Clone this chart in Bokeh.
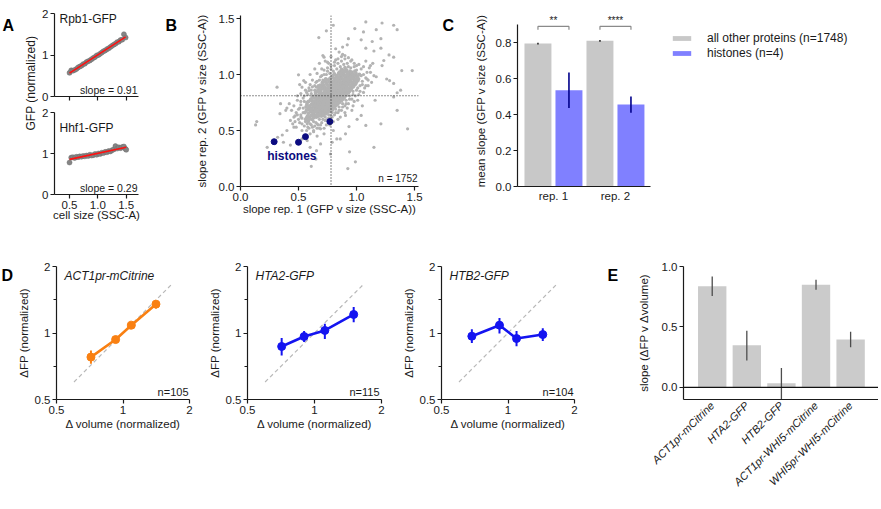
import math
import numpy as np
from bokeh.plotting import figure
from bokeh.layouts import row, column
from bokeh.models import Range1d, FixedTicker, Label, Span, Legend, LegendItem, PrintfTickFormatter
from bokeh.embed import file_html
from bokeh.resources import INLINE
from bokeh.core.properties import value

FONT = "Liberation Sans"
TXT = "#1a1a1a"

# ---------------- data ----------------
# Panel A
a_top_x = [0.50, 0.53, 0.56, 0.59, 0.62, 0.65, 0.68, 0.71, 0.74, 0.77, 0.80, 0.83, 0.86, 0.89, 0.92, 0.95, 0.98,
           1.01, 1.04, 1.07, 1.10, 1.13, 1.16, 1.19, 1.22, 1.25, 1.28, 1.31, 1.34, 1.37, 1.40, 1.43, 1.46, 1.49]
a_top_y = [0.57, 0.63, 0.62, 0.64, 0.66, 0.70, 0.72, 0.74, 0.78, 0.79, 0.83, 0.85, 0.87, 0.90, 0.93, 0.95, 0.99,
           1.00, 1.03, 1.06, 1.09, 1.11, 1.14, 1.16, 1.19, 1.22, 1.25, 1.27, 1.31, 1.32, 1.36, 1.37, 1.50, 1.42]
a_bot_x = [0.50, 0.53, 0.56, 0.59, 0.62, 0.65, 0.68, 0.71, 0.74, 0.77, 0.80, 0.83, 0.86, 0.89, 0.92, 0.95, 0.98,
           1.01, 1.04, 1.07, 1.10, 1.13, 1.16, 1.19, 1.22, 1.25, 1.28, 1.31, 1.34, 1.37, 1.40, 1.43, 1.46, 1.49, 1.50]
a_bot_y = [0.78, 0.90, 0.91, 0.89, 0.92, 0.91, 0.93, 0.92, 0.94, 0.93, 0.95, 0.94, 0.97, 0.95, 0.96, 0.99, 0.97,
           1.00, 0.99, 1.02, 1.01, 1.04, 1.03, 1.06, 1.05, 1.08, 1.10, 1.18, 1.12, 1.15, 1.13, 1.16, 1.17, 1.11, 1.09]
a_names = ["Rpb1-GFP", "Hhf1-GFP"]
a_slopes = ["slope = 0.91", "slope = 0.29"]

# Panel B (slope rep.1, slope rep.2)
b_core = [
    (0.562, 0.60), (0.556, 0.66), (0.565, 0.71),
    (0.578, 0.63), (0.585, 0.69), (0.574, 0.75), (0.583, 0.58),
    (0.597, 0.62), (0.604, 0.67), (0.599, 0.72), (0.606, 0.78), (0.593, 0.70),
    (0.617, 0.60), (0.624, 0.65), (0.615, 0.70), (0.626, 0.74), (0.619, 0.80), (0.623, 0.68),
    (0.637, 0.63), (0.645, 0.67), (0.641, 0.71), (0.634, 0.76), (0.646, 0.82), (0.639, 0.73), (0.643, 0.69),
    (0.655, 0.62), (0.664, 0.66), (0.658, 0.70), (0.666, 0.73), (0.653, 0.77), (0.661, 0.81), (0.667, 0.86), (0.659, 0.75),
    (0.676, 0.64), (0.684, 0.68), (0.679, 0.72), (0.687, 0.75), (0.673, 0.79), (0.682, 0.83), (0.678, 0.88), (0.685, 0.70),
    (0.697, 0.63), (0.703, 0.67), (0.695, 0.71), (0.706, 0.74), (0.699, 0.77), (0.704, 0.80), (0.693, 0.84), (0.701, 0.89),
    (0.707, 0.93), (0.696, 0.76),
    (0.716, 0.66), (0.724, 0.70), (0.718, 0.73), (0.726, 0.76), (0.714, 0.79), (0.722, 0.82), (0.727, 0.85), (0.719, 0.90),
    (0.713, 0.72), (0.725, 0.78),
    (0.736, 0.65), (0.744, 0.69), (0.738, 0.72), (0.746, 0.75), (0.733, 0.78), (0.741, 0.81), (0.747, 0.84), (0.739, 0.87),
    (0.743, 0.92), (0.735, 0.96), (0.745, 0.80),
    (0.757, 0.68), (0.764, 0.72), (0.754, 0.75), (0.766, 0.78), (0.759, 0.81), (0.763, 0.84), (0.753, 0.86), (0.761, 0.89),
    (0.767, 0.94), (0.756, 0.77), (0.762, 0.83),
    (0.777, 0.67), (0.784, 0.71), (0.775, 0.74), (0.786, 0.77), (0.779, 0.80), (0.783, 0.83), (0.773, 0.86), (0.781, 0.89),
    (0.787, 0.92), (0.776, 0.97), (0.782, 0.79),
    (0.797, 0.70), (0.804, 0.74), (0.795, 0.77), (0.806, 0.80), (0.799, 0.83), (0.803, 0.86), (0.793, 0.88), (0.801, 0.91),
    (0.807, 0.95), (0.796, 0.99), (0.802, 0.82),
    (0.817, 0.72), (0.824, 0.76), (0.815, 0.79), (0.826, 0.82), (0.819, 0.85), (0.823, 0.88), (0.813, 0.91), (0.821, 0.94),
    (0.827, 0.98), (0.816, 0.87),
    (0.837, 0.74), (0.844, 0.78), (0.835, 0.81), (0.846, 0.84), (0.839, 0.87), (0.843, 0.90), (0.833, 0.93), (0.841, 0.96),
    (0.847, 1.01), (0.836, 0.89),
    (0.857, 0.76), (0.864, 0.80), (0.855, 0.83), (0.866, 0.86), (0.859, 0.89), (0.863, 0.92), (0.853, 0.95), (0.861, 0.99),
    (0.867, 1.03),
    (0.877, 0.78), (0.884, 0.82), (0.875, 0.85), (0.886, 0.88), (0.879, 0.91), (0.883, 0.94), (0.873, 0.97), (0.881, 1.01),
    (0.897, 0.80), (0.904, 0.84), (0.895, 0.88), (0.906, 0.91), (0.899, 0.94), (0.903, 0.98), (0.893, 1.02), (0.901, 1.06),
    (0.917, 0.83), (0.924, 0.87), (0.915, 0.90), (0.926, 0.94), (0.919, 0.97), (0.923, 1.00), (0.913, 1.04),
    (0.937, 0.85), (0.944, 0.89), (0.935, 0.93), (0.946, 0.96), (0.939, 1.00), (0.943, 1.03),
    (0.957, 0.88), (0.964, 0.92), (0.955, 0.96), (0.966, 0.99), (0.959, 1.02),
    (0.977, 0.90), (0.984, 0.95), (0.975, 0.98), (0.986, 1.03),
    (0.997, 0.93), (1.004, 0.97), (0.995, 1.01),
    (1.017, 0.96), (1.024, 1.00),
]
b_core2 = [
    (0.571, 0.615), (0.568, 0.68), (0.573, 0.73),
    (0.592, 0.60), (0.588, 0.655), (0.591, 0.705), (0.587, 0.76),
    (0.611, 0.635), (0.608, 0.685), (0.612, 0.735), (0.609, 0.77),
    (0.632, 0.615), (0.628, 0.66), (0.631, 0.715), (0.627, 0.75), (0.633, 0.79),
    (0.651, 0.64), (0.648, 0.685), (0.652, 0.72), (0.649, 0.745), (0.653, 0.79), (0.647, 0.84),
    (0.672, 0.63), (0.668, 0.675), (0.671, 0.71), (0.669, 0.74), (0.673, 0.765), (0.667, 0.80), (0.672, 0.845),
    (0.691, 0.655), (0.688, 0.695), (0.692, 0.735), (0.689, 0.76), (0.693, 0.785), (0.687, 0.815), (0.691, 0.86),
    (0.688, 0.905),
    (0.712, 0.645), (0.708, 0.685), (0.711, 0.725), (0.709, 0.755), (0.713, 0.785), (0.707, 0.81), (0.712, 0.83),
    (0.709, 0.875), (0.711, 0.915),
    (0.731, 0.675), (0.728, 0.71), (0.732, 0.74), (0.729, 0.77), (0.733, 0.795), (0.727, 0.825), (0.731, 0.855),
    (0.728, 0.885), (0.732, 0.94),
    (0.752, 0.665), (0.748, 0.705), (0.751, 0.735), (0.749, 0.765), (0.753, 0.795), (0.747, 0.825), (0.752, 0.85),
    (0.749, 0.875), (0.751, 0.905), (0.748, 0.95),
    (0.771, 0.695), (0.768, 0.73), (0.772, 0.765), (0.769, 0.79), (0.773, 0.815), (0.767, 0.845), (0.771, 0.875),
    (0.768, 0.905), (0.772, 0.93), (0.769, 0.96),
    (0.792, 0.685), (0.788, 0.725), (0.791, 0.755), (0.789, 0.785), (0.793, 0.81), (0.787, 0.84), (0.792, 0.87),
    (0.789, 0.90), (0.791, 0.935), (0.788, 0.975),
    (0.811, 0.71), (0.808, 0.75), (0.812, 0.78), (0.809, 0.81), (0.813, 0.84), (0.807, 0.865), (0.811, 0.895),
    (0.808, 0.925), (0.812, 0.965), (0.809, 1.005),
    (0.832, 0.73), (0.828, 0.77), (0.831, 0.80), (0.829, 0.83), (0.833, 0.86), (0.827, 0.885), (0.832, 0.915),
    (0.829, 0.95), (0.831, 0.99),
    (0.851, 0.75), (0.848, 0.79), (0.852, 0.82), (0.849, 0.85), (0.853, 0.88), (0.847, 0.905), (0.851, 0.94),
    (0.848, 0.975), (0.852, 1.02),
    (0.872, 0.77), (0.868, 0.81), (0.871, 0.84), (0.869, 0.87), (0.873, 0.90), (0.867, 0.93), (0.872, 0.965),
    (0.869, 1.00), (0.871, 1.045),
    (0.891, 0.79), (0.888, 0.83), (0.892, 0.865), (0.889, 0.895), (0.893, 0.925), (0.887, 0.955), (0.891, 0.99),
    (0.888, 1.035),
    (0.912, 0.815), (0.908, 0.855), (0.911, 0.885), (0.909, 0.92), (0.913, 0.955), (0.907, 0.99), (0.911, 1.025),
    (0.931, 0.84), (0.928, 0.875), (0.932, 0.915), (0.929, 0.95), (0.933, 0.98), (0.927, 1.015),
    (0.952, 0.865), (0.948, 0.905), (0.951, 0.94), (0.949, 0.975), (0.953, 1.01),
    (0.971, 0.89), (0.968, 0.93), (0.972, 0.965), (0.969, 1.00),
    (0.992, 0.915), (0.988, 0.955), (0.991, 0.99),
    (1.011, 0.945), (1.008, 0.985),
]
b_halo = [
    (0.52, 0.64), (0.54, 0.70), (0.50, 0.60), (0.55, 0.76), (0.53, 0.56), (0.58, 0.82), (0.61, 0.86), (0.64, 0.90),
    (0.66, 0.94), (0.69, 0.98), (0.72, 1.00), (0.75, 1.03), (0.78, 1.05), (0.81, 1.08), (0.84, 1.10), (0.87, 1.12),
    (0.90, 1.14), (0.95, 1.12), (1.00, 1.08), (1.04, 1.05), (1.06, 1.00), (1.05, 0.94), (1.08, 0.97), (1.03, 0.90),
    (1.00, 0.86), (0.97, 0.82), (0.94, 0.78), (0.91, 0.74), (0.88, 0.71), (0.85, 0.68), (0.82, 0.66), (0.79, 0.62),
    (0.76, 0.61), (0.73, 0.59), (0.70, 0.57), (0.67, 0.55), (0.64, 0.54), (0.61, 0.55), (0.59, 0.52), (0.57, 0.50),
    (0.63, 0.49), (0.68, 0.52), (0.74, 0.55), (0.80, 0.58), (0.86, 0.62), (0.92, 0.70), (0.98, 0.76), (1.02, 0.82),
    (1.10, 0.90), (1.12, 1.02), (0.60, 0.91), (0.56, 0.86), (0.62, 0.95), (0.70, 1.05), (0.76, 1.10), (0.82, 1.13),
    (0.88, 1.18), (0.93, 1.07), (0.98, 1.10), (1.08, 1.12), (0.66, 1.01), (0.73, 1.12), (0.51, 0.70), (0.48, 0.66),
    (0.46, 0.62), (0.45, 0.56), (0.48, 0.53), (0.44, 0.68), (0.40, 0.70), (0.52, 0.76),
]
b_halo2 = [
    (0.47, 0.58), (0.49, 0.64), (0.50, 0.69), (0.51, 0.57), (0.52, 0.73), (0.53, 0.61), (0.54, 0.66), (0.55, 0.54),
    (0.55, 0.81), (0.56, 0.58), (0.57, 0.84), (0.58, 0.53), (0.59, 0.88), (0.60, 0.56), (0.61, 0.83), (0.62, 0.53),
    (0.62, 0.89), (0.63, 0.58), (0.64, 0.86), (0.65, 0.57), (0.65, 0.93), (0.66, 0.52), (0.67, 0.90), (0.68, 0.60),
    (0.68, 0.95), (0.69, 0.55), (0.70, 0.99), (0.71, 0.60), (0.71, 0.95), (0.72, 0.63), (0.72, 1.04), (0.73, 0.62),
    (0.74, 1.00), (0.75, 0.60), (0.75, 1.06), (0.76, 0.64), (0.77, 1.01), (0.78, 0.63), (0.78, 1.08), (0.79, 0.66),
    (0.80, 1.03), (0.81, 0.64), (0.81, 1.11), (0.82, 0.69), (0.83, 1.05), (0.84, 0.66), (0.84, 1.14), (0.85, 0.71),
    (0.86, 1.07), (0.87, 0.68), (0.87, 1.16), (0.88, 0.74), (0.89, 1.09), (0.90, 0.72), (0.90, 1.17), (0.91, 0.77),
    (0.92, 1.10), (0.93, 0.74), (0.93, 1.15), (0.94, 0.81), (0.95, 1.06), (0.96, 0.78), (0.96, 1.13), (0.97, 0.85),
    (0.98, 1.07), (0.99, 0.81), (1.00, 1.04), (1.01, 0.88), (1.02, 1.09), (1.03, 0.85), (1.04, 0.99), (1.05, 0.91),
    (1.06, 1.07), (1.07, 0.88), (1.09, 1.02), (1.10, 0.95), (1.11, 1.06), (1.13, 0.93), (1.14, 1.10), (1.17, 0.98),
    (0.53, 0.50), (0.60, 0.47), (0.66, 0.45), (0.72, 0.52), (0.77, 0.55), (0.84, 0.60), (0.90, 0.66), (0.97, 0.72),
    (1.01, 0.77), (1.06, 0.84), (0.46, 0.72), (0.49, 0.77), (0.52, 0.83), (0.56, 0.93), (0.60, 1.00), (0.64, 1.05),
    (0.68, 1.10), (0.71, 1.17), (0.78, 1.16), (0.85, 1.20),
]
b_outliers = [
    (0.80, 1.44), (1.08, 1.47), (1.22, 1.46), (1.32, 1.44), (1.35, 1.40), (0.985, 1.41), (1.06, 1.38), (1.17, 1.40),
    (1.21, 1.32), (1.135, 1.295), (1.04, 1.31), (0.93, 1.32), (0.92, 1.265), (0.88, 1.245), (0.82, 1.23), (1.08, 1.235),
    (1.15, 1.21), (1.21, 1.235), (1.28, 1.175), (1.32, 1.155), (1.235, 1.125), (1.22, 1.08), (1.12, 1.08), (1.15, 0.99),
    (1.39, 1.035), (1.26, 0.96), (1.285, 0.946), (1.08, 0.90), (1.35, 0.837), (0.675, 1.33), (0.74, 1.39), (0.72, 1.155),
    (0.75, 1.11), (0.50, 0.997), (0.545, 0.946), (0.51, 0.91), (0.53, 0.887), (0.315, 0.887), (0.59, 0.857), (0.655, 0.887),
    (0.62, 0.81), (0.49, 0.81), (0.54, 0.79), (0.42, 0.74), (0.345, 0.74), (0.14, 0.58), (0.13, 0.55), (0.34, 0.65),
    (0.39, 0.68), (0.43, 0.59), (0.47, 0.63), (0.52, 0.62), (0.46, 0.53), (0.40, 0.50), (0.36, 0.46), (0.32, 0.44),
    (0.23, 0.35), (0.37, 0.395), (0.43, 0.37), (0.53, 0.425), (0.575, 0.41), (0.60, 0.35), (0.655, 0.32), (0.65, 0.245),
    (0.61, 0.18), (0.69, 0.38), (0.72, 0.47), (0.69, 0.515), (0.63, 0.50), (0.575, 0.56), (0.66, 0.56), (0.94, 0.31),
    (0.99, 0.22), (0.925, 0.16), (1.08, 0.545), (1.005, 0.60), (1.04, 0.635), (0.935, 0.535), (0.905, 0.47), (0.86, 0.425),
    (0.83, 0.425), (0.79, 0.395), (0.96, 0.68), (1.05, 0.72), (0.905, 0.635), (0.80, 0.50), (0.775, 0.29), (1.48, 1.035),
    (1.35, 0.68), (1.21, 0.56), (1.32, 0.80), (1.44, 0.515), (1.16, 0.77), (1.09, 0.96), (1.32, 0.92), (1.38, 0.86),
    (1.15, 0.35),
]
hist_x = [0.29, 0.50, 0.56, 0.77]
hist_y = [0.40, 0.395, 0.445, 0.58]
b_mean_x = 0.78
b_mean_y = 0.81
b_n = "n = 1752"

# Panel C
c_reps = ["rep. 1", "rep. 2"]
c_other = [0.795, 0.81]
c_other_lo = [0.790, 0.805]
c_other_hi = [0.800, 0.815]
c_hist = [0.535, 0.456]
c_hist_lo = [0.436, 0.410]
c_hist_hi = [0.634, 0.500]
c_sig = ["**", "****"]
c_legend = ["all other proteins (n=1748)", "histones (n=4)"]

# Panel D
d_names = ["ACT1pr-mCitrine", "HTA2-GFP", "HTB2-GFP"]
d_n = ["n=105", "n=115", "n=104"]
d_x = [[0.716, 0.926, 1.091, 1.41], [0.712, 0.898, 1.113, 1.50], [0.686, 0.915, 1.093, 1.437]]
d_y = [[0.778, 0.934, 1.085, 1.351], [0.869, 0.964, 1.027, 1.213], [0.967, 1.085, 0.944, 0.984]]
d_lo = [[0.725, 0.915, 1.065, 1.29], [0.79, 0.91, 0.94, 1.12], [0.90, 0.995, 0.87, 0.92]]
d_hi = [[0.833, 0.955, 1.105, 1.40], [0.95, 1.02, 1.10, 1.31], [1.04, 1.17, 1.02, 1.05]]
d_colors = ["#f98012", "#1414f0", "#1414f0"]
d_identity = [0.6, 1.65]

# Panel E
e_names = ["ACT1pr-mCitrine", "HTA2-GFP", "HTB2-GFP", "ACT1pr-WHI5-mCitrine", "WHI5pr-WHI5-mCitrine"]
e_slope = [0.837, 0.348, 0.034, 0.849, 0.396]
e_lo = [0.755, 0.223, -0.096, 0.808, 0.333]
e_hi = [0.918, 0.468, 0.160, 0.890, 0.460]

panel_letters = ["A", "B", "C", "D", "E"]


# ---------------- helpers ----------------
def make_fig(w, h, borders, xr, yr, **kw):
    l, r, t, b = borders
    p = figure(width=w, height=h, x_range=xr, y_range=yr, title=None,
               min_border_left=l, min_border_right=r, min_border_top=t, min_border_bottom=b,
               output_backend="svg", toolbar_location=None, **kw)
    p.outline_line_color = None
    for g in p.grid:
        g.visible = False
    for ax in p.axis:
        ax.axis_line_color = TXT
        ax.axis_line_width = 1.2
        ax.major_tick_line_color = TXT
        ax.major_tick_line_width = 1.2
        ax.major_tick_in = 0
        ax.major_tick_out = 4
        ax.minor_tick_line_color = None
        ax.major_label_text_font = FONT
        ax.major_label_text_font_size = "11.5px"
        ax.major_label_text_color = TXT
        ax.major_label_standoff = 2
        ax.axis_label_text_font = FONT
        ax.axis_label_text_font_size = "11.5px"
        ax.axis_label_text_font_style = "normal"
        ax.axis_label_text_color = TXT
        ax.axis_label_standoff = 2
    return p


def one_decimal(ax):
    ax.formatter = PrintfTickFormatter(format="%.1f")


def blank(w, h):
    # a plain text canvas whose data units are pixels from its top-left corner
    p = figure(width=w, height=h, x_range=Range1d(0, w), y_range=Range1d(h, 0), title=None,
               x_axis_type=None, y_axis_type=None, min_border=0,
               output_backend="svg", toolbar_location=None)
    p.outline_line_color = None
    for g in p.grid:
        g.visible = False
    return p


def letter(p, txt, x, y):
    p.text(x=[x], y=[y], text=[txt], text_font=value(FONT), text_font_size="16px",
           text_font_style="bold", text_baseline="top", text_align="left", text_color="#000000")


def label(p, text, x, y, size="11.5px", align="left", baseline="middle", style="normal", color=TXT):
    p.add_layout(Label(x=x, y=y, x_units="screen", y_units="screen", text=text, text_font=FONT,
                       text_font_size=size, text_align=align, text_baseline=baseline,
                       text_font_style=style, text_color=color))


# ---------------- top row ----------------
strip = blank(38, 240)
letter(strip, panel_letters[0], 2, 2)
strip.text(x=[30.5], y=[95], text=["GFP (normalized)"], text_font=value(FONT), text_font_size="12px",
           text_align="center", text_baseline="middle", angle=math.pi / 2, text_color=TXT)

a_xr = (0.235, 1.717)
a_top = make_fig(112, 104, (16, 12, 13, 8), Range1d(*a_xr), Range1d(0, 2))
a_bot = make_fig(112, 136, (16, 12, 8, 46), Range1d(*a_xr), Range1d(0, 2))
for p, xs, ys, nm, sl, ny in [(a_top, a_top_x, a_top_y, a_names[0], a_slopes[0], 78),
                              (a_bot, a_bot_x, a_bot_y, a_names[1], a_slopes[1], 67)]:
    p.yaxis.ticker = FixedTicker(ticks=[0, 1, 2])
    p.scatter(xs, ys, size=5, fill_color="#858585", line_color="#6e6e6e", line_width=0.5)
    k, c = np.polyfit(xs, ys, 1)
    fx = [min(xs), max(xs)]
    p.line(fx, [k * v + c for v in fx], line_color="#ff1010", line_width=1.6)
    label(p, nm, 5, ny, size="12px")
    label(p, sl, 83, 7, size="10.5px", align="right")
# top panel: x ticks without labels (drawn as minor ticks)
a_top.xaxis.ticker = FixedTicker(ticks=[], minor_ticks=[0.5, 1.0, 1.5])
a_top.xaxis.minor_tick_line_color = TXT
a_top.xaxis.minor_tick_line_width = 1.2
a_top.xaxis.minor_tick_out = 4
a_top.xaxis.minor_tick_in = 0
a_bot.xaxis.ticker = FixedTicker(ticks=[0.5, 1.0, 1.5])
one_decimal(a_bot.xaxis)
a_bot.xaxis.axis_label = "cell size (SSC-A)"
a_bot.xaxis.axis_label_standoff = -3
col_a = column(a_top, a_bot)

# Panel B
b_dense = b_core + b_core2
b_sparse = b_halo + b_halo2 + b_outliers
b_let = blank(35, 240)
letter(b_let, panel_letters[1], 15, 2)
pb = make_fig(255, 240, (55, 22, 15, 54), Range1d(0, 1.534), Range1d(0, 1.527))
pb.xaxis.ticker = FixedTicker(ticks=[0.0, 0.5, 1.0, 1.5])
pb.yaxis.ticker = FixedTicker(ticks=[0.0, 0.5, 1.0, 1.5])
one_decimal(pb.xaxis)
one_decimal(pb.yaxis)
pb.xaxis.axis_label = "slope rep. 1 (GFP v size (SSC-A))"
pb.yaxis.axis_label = "slope rep. 2 (GFP v size (SSC-A))"
pb.xaxis.axis_label_standoff = -1
pb.yaxis.axis_label_standoff = 8
pb.scatter([q[0] for q in b_sparse], [q[1] for q in b_sparse], size=3.2, fill_color="#b3b3b3", line_color=None)
pb.scatter([q[0] for q in b_dense], [q[1] for q in b_dense], size=3.9, fill_color="#b3b3b3", line_color=None)
pb.add_layout(Span(location=b_mean_x, dimension="height", line_color="#222222", line_dash="1 2", line_width=1.1))
pb.add_layout(Span(location=b_mean_y, dimension="width", line_color="#222222", line_dash="1 2", line_width=1.1))
pb.scatter(hist_x, hist_y, size=6, fill_color="#0b0b80", line_color="#0b0b80")
pb.add_layout(Label(x=0.23, y=0.27, text="histones", text_font=FONT, text_font_size="12px",
                    text_font_style="bold", text_color="#0b0b80", text_baseline="middle"))
label(pb, b_n, 177, 8, size="10px", align="right")

# Panel C
c_pos = [1, 2]
off = 0.25
bw = 0.435
c_let = blank(30, 240)
letter(c_let, panel_letters[2], 2, 2)
pc = make_fig(411, 240, (47, 0, 10, 54), Range1d(0.42, 6.291), Range1d(0, 0.951))
pc.xaxis.bounds = (0.42, 2.565)
pc.yaxis.bounds = (0, 0.9)
pc.yaxis.ticker = FixedTicker(ticks=[0.0, 0.2, 0.4, 0.6, 0.8])
one_decimal(pc.yaxis)
pc.xaxis.ticker = FixedTicker(ticks=c_pos)
pc.xaxis.major_label_overrides = {c_pos[i]: c_reps[i] for i in range(2)}
pc.xaxis.major_tick_out = 0
pc.xaxis.major_label_standoff = 3
pc.yaxis.axis_label = "mean slope (GFP v size (SSC-A))"
pc.yaxis.axis_label_standoff = 6
gx = [v - off for v in c_pos]
hx = [v + off for v in c_pos]
r_other = pc.vbar(x=gx, top=c_other, width=bw, fill_color="#c8c8c8", line_color=None)
r_hist = pc.vbar(x=hx, top=c_hist, width=bw, fill_color="#8080ff", line_color=None)
pc.segment(gx, c_other_lo, gx, c_other_hi, line_color="#111111", line_width=1.4)
pc.segment(hx, c_hist_lo, hx, c_hist_hi, line_color="#00008b", line_width=1.6)
br_y, br_lo = 0.89, 0.872
pc.multi_line([[gx[i], gx[i], hx[i], hx[i]] for i in range(2)],
              [[br_lo, br_y, br_y, br_lo] for i in range(2)], line_color="#8a8a8a", line_width=1.2)
pc.text(x=c_pos, y=[0.894, 0.894], text=c_sig, text_font=value(FONT), text_font_size="10px",
        text_align="center", text_baseline="bottom", text_color=TXT)
leg = Legend(items=[LegendItem(label=c_legend[0], renderers=[r_other]),
                    LegendItem(label=c_legend[1], renderers=[r_hist])],
             location=(153, 126), border_line_color=None, background_fill_alpha=0,
             padding=0, margin=0, spacing=1, glyph_width=23, glyph_height=6,
             label_height=14, label_standoff=14, label_text_font=FONT,
             label_text_font_size="12px", label_text_color=TXT)
pc.add_layout(leg)

top_row = row(strip, col_a, b_let, pb, c_let, pc)

# ---------------- bottom row ----------------
d_let = blank(14, 269)
letter(d_let, panel_letters[3], 1, 1)
d_specs = [(186, (40, 11, 26, 110)), (196, (47, 15, 26, 110)), (204, (45, 26, 26, 110))]
d_figs = []
for i in range(3):
    w, bd = d_specs[i]
    p = make_fig(w, 269, bd, Range1d(0.5, 2), Range1d(0.5, 2), x_axis_type="log", y_axis_type="log")
    p.xaxis.ticker = FixedTicker(ticks=[0.5, 1, 2])
    p.yaxis.ticker = FixedTicker(ticks=[0.5, 1, 2], minor_ticks=[0.7071, 1.4142])
    p.yaxis.minor_tick_line_color = TXT
    p.yaxis.minor_tick_line_width = 1.2
    p.yaxis.minor_tick_out = 3
    p.yaxis.minor_tick_in = 0
    ov = {0.5: "0.5", 1: "1", 2: "2"}
    p.xaxis.major_label_overrides = ov
    p.yaxis.major_label_overrides = ov
    p.xaxis.axis_label = "\u0394 volume (normalized)"
    p.yaxis.axis_label = "\u0394FP (normalized)"
    p.xaxis.axis_label_standoff = 1
    p.yaxis.axis_label_standoff = 2
    p.line(d_identity, d_identity, line_color="#b8b8b8", line_dash="4 3", line_width=1.2)
    col = d_colors[i]
    p.segment(d_x[i], d_lo[i], d_x[i], d_hi[i], line_color=col, line_width=2)
    p.line(d_x[i], d_y[i], line_color=col, line_width=2.6)
    p.scatter(d_x[i], d_y[i], size=8, fill_color=col, line_color=col)
    label(p, d_names[i], 8, 124, size="12px", style="italic")
    label(p, d_n[i], 132, 8, size="11px", align="right")
    d_figs.append(p)

e_let = blank(30, 269)
letter(e_let, panel_letters[4], 7, 1)
e_pos = list(range(len(e_names)))
pe = make_fig(248, 269, (53, 0, 6, 110), Range1d(-0.83, 4.806), Range1d(-0.1, 1.0))
pe.yaxis.ticker = FixedTicker(ticks=[0.0, 0.5, 1.0])
one_decimal(pe.yaxis)
pe.xaxis.ticker = FixedTicker(ticks=e_pos)
pe.xaxis.major_label_overrides = {e_pos[i]: e_names[i] for i in e_pos}
pe.xaxis.major_label_orientation = math.pi / 4
pe.xaxis.major_tick_out = 0
pe.xaxis.major_label_text_font_style = "italic"
pe.xaxis.major_label_text_font_size = "11px"
pe.xaxis.major_label_standoff = 4
pe.yaxis.axis_label = "slope (\u0394FP v \u0394volume)"
pe.yaxis.axis_label_standoff = 9
pe.vbar(x=e_pos, top=e_slope, width=0.82, fill_color="#cbcbcb", line_color=None)
pe.segment(e_pos, e_lo, e_pos, e_hi, line_color="#4d4d4d", line_width=1.3)
pe.add_layout(Span(location=0, dimension="width", line_color="#111111", line_width=1.3))

bottom_row = row(d_let, *d_figs, e_let, pe)

layout = column(top_row, bottom_row)

open("out.html", "w").write(file_html(layout, INLINE))
